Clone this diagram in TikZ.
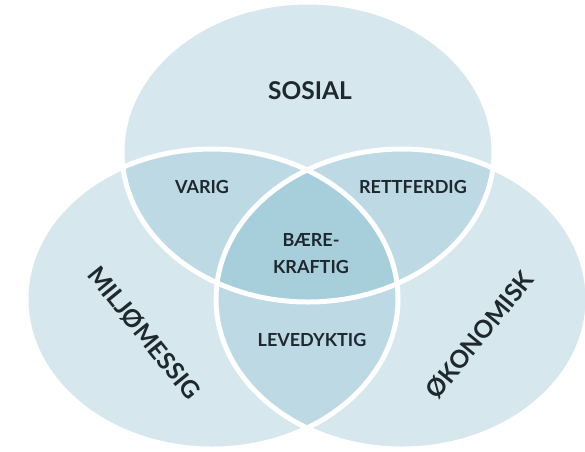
\documentclass[tikz,border=0pt]{standalone}
\usepackage{fontspec}
\setmainfont{Lato}
\definecolor{cone}{RGB}{214,231,238}
\definecolor{ctwo}{RGB}{188,217,228}
\definecolor{cthree}{RGB}{167,206,219}
\definecolor{txt}{RGB}{30,40,46}
\begin{document}
\begin{tikzpicture}[x=1pt,y=-1pt,
  sep/.style={draw=white,line width=5pt},
  biglab/.style={text=txt,font=\bfseries\fontsize{24.5}{28}\selectfont,inner sep=0pt},
  rotlab/.style={text=txt,font=\bfseries\fontsize{24.5}{28}\selectfont,inner sep=0pt},
  smalllab/.style={text=txt,font=\bfseries\fontsize{18}{27}\selectfont,inner sep=0pt,align=center}]
\useasboundingbox (0,0) rectangle (585,451);
\def\etop{(308,152) ellipse [x radius=186, y radius=150]}
\def\eleft{(212,299) ellipse [x radius=186, y radius=150]}
\def\eright{(402,299) ellipse [x radius=186, y radius=150]}
% single regions
\fill[cone] \etop;
\fill[cone] \eleft;
\fill[cone] \eright;
% pairwise overlaps
\begin{scope}\clip \etop; \fill[ctwo] \eleft; \fill[ctwo] \eright; \end{scope}
\begin{scope}\clip \eleft; \fill[ctwo] \eright; \end{scope}
% triple overlap
\begin{scope}\clip \etop; \clip \eleft; \fill[cthree] \eright; \end{scope}
% separating lines
\draw[sep] \etop;
\draw[sep] \eleft;
\draw[sep] \eright;
% labels
\node[biglab] (sosial) at (310,91) {SOSIAL};
\node[rotlab,rotate=-51] (miljo) at (144,333) {MILJØMESSIG};
\node[rotlab,rotate=51] (okon) at (480,335) {ØKONOMISK};
\node[smalllab] (varig) at (202,187) {VARIG};
\node[smalllab] (rett) at (413,187) {RETTFERDIG};
\node[smalllab] (baere) at (311,254) {BÆRE-\\KRAFTIG};
\node[smalllab] (leve) at (312,340) {LEVEDYKTIG};
\end{tikzpicture}
\end{document}
